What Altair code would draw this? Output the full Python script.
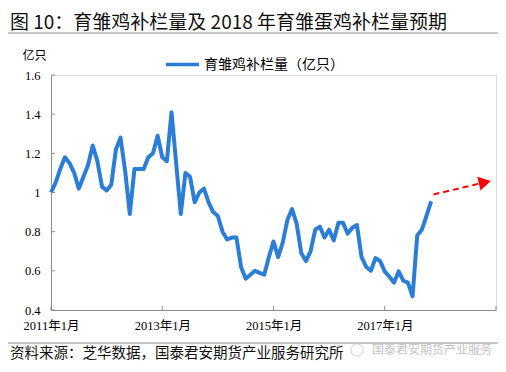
import json
import altair as alt
import pandas as pd

# ---------------- data ----------------
TITLE = "图 10：育雏鸡补栏量及 2018 年育雏蛋鸡补栏量预期"
SOURCE = "资料来源：芝华数据，国泰君安期货产业服务研究所"
WATERMARK = "国泰君安期货产业服务"
SERIES_NAME = "育雏鸡补栏量（亿只）"
Y_UNIT = "亿只"

# monthly values, starting 2011-01 (month index 0)
values = [
    1.00, 1.05, 1.12, 1.18, 1.15, 1.10, 1.02, 1.08, 1.14, 1.24, 1.16, 1.03,
    1.01, 1.04, 1.22, 1.28, 1.11, 0.89, 1.12, 1.12, 1.12, 1.18, 1.20, 1.29,
    1.18, 1.16, 1.41, 1.15, 0.89, 1.10, 1.08, 0.95, 1.00, 1.02, 0.95, 0.90,
    0.88, 0.80, 0.76, 0.77, 0.77, 0.62, 0.56, 0.58, 0.60, 0.59, 0.58, 0.67,
    0.75, 0.67, 0.745, 0.86, 0.915, 0.84, 0.69, 0.65, 0.70, 0.81, 0.826, 0.77,
    0.81, 0.755, 0.846, 0.846, 0.79, 0.82, 0.834, 0.67, 0.62, 0.60, 0.665, 0.65,
    0.597, 0.57, 0.54, 0.597, 0.55, 0.54, 0.47, 0.78, 0.81, 0.88, 0.955,
]
months = list(range(len(values)))

# forecast arrow (month index, value)
arrow_m = [82.5, 93.6]
arrow_v = [0.99, 1.052]
arrow_head_m = [93.6]
arrow_head_v = [1.052]

x_tick_values = [0, 24, 48, 72, 96]
x_tick_labels = ["2011年1月", "2013年1月", "2015年1月", "2017年1月", ""]
y_tick_values = [0.4, 0.6, 0.8, 1.0, 1.2, 1.4, 1.6]

# ---------------- styling ----------------
BLUE = "#2B7DD6"
GRAY = "#8c8c8c"
CJK = "Noto Sans CJK SC"
NUM = "Liberation Serif, Noto Sans CJK SC"
W, H = 445, 235

xscale = alt.Scale(domain=[0, 96], nice=False, zero=False)
yscale = alt.Scale(domain=[0.4, 1.6], nice=False, zero=False)

label_expr = json.dumps(x_tick_labels, ensure_ascii=False) + "[round(datum.value/24)]"

XAXIS = alt.Axis(values=x_tick_values, labelExpr=label_expr, title=None,
                 grid=False, ticks=False, domainColor=GRAY, domainWidth=1,
                 labelFont=NUM, labelFontSize=12.5, labelColor="#000000",
                 labelPadding=9, labelFlush=False, labelOverlap=False)
YAXIS = alt.Axis(values=y_tick_values, format=".1~f", title=Y_UNIT,
                 titleAngle=0, titleX=-29, titleY=-20, titleAlign="left",
                 titleBaseline="middle", titleFont=CJK, titleFontSize=12,
                 titleFontWeight="normal", titleColor="#000000",
                 grid=False, ticks=False, domainColor=GRAY, domainWidth=1,
                 labelFont=NUM, labelFontSize=12.5, labelColor="#000000",
                 labelPadding=11, labelOverlap=False, labelFlush=False)


def X(field):
    return alt.X(field, scale=xscale, axis=XAXIS)


def Y(field):
    return alt.Y(field, scale=yscale, axis=YAXIS)


df = pd.DataFrame({"m": months, "v": values, "s": SERIES_NAME})

line = alt.Chart(df).mark_line(strokeWidth=4, strokeJoin="round").encode(
    x=X("m:Q"),
    y=Y("v:Q"),
    color=alt.Color("s:N", scale=alt.Scale(range=[BLUE]),
                    legend=alt.Legend(title=None, orient="none", legendX=113, legendY=-29,
                                      symbolType="stroke", symbolSize=1089,
                                      symbolStrokeWidth=3.5, labelFont=CJK,
                                      labelFontSize=14, labelColor="#000000",
                                      labelOffset=3, padding=0)),
)

ytick_df = pd.DataFrame({"v": y_tick_values})
yticks = alt.Chart(ytick_df).mark_rule(color=GRAY, strokeWidth=1).encode(
    y=Y("v:Q"), x=alt.value(0), x2=alt.value(4))

xtick_df = pd.DataFrame({"m": x_tick_values})
xticks = alt.Chart(xtick_df).mark_rule(color=GRAY, strokeWidth=1).encode(
    x=X("m:Q"), y=alt.value(H), y2=alt.value(H - 4))

arrow_df = pd.DataFrame({"m": arrow_m, "v": arrow_v})
arrow = alt.Chart(arrow_df).mark_line(color="#ff0000", strokeWidth=2,
                                       strokeDash=[6, 4]).encode(
    x=X("m:Q"), y=Y("v:Q"))

head_df = pd.DataFrame({"m": arrow_head_m, "v": arrow_head_v})
head = alt.Chart(head_df).mark_point(shape="triangle-right", filled=True, color="#ff0000",
                                     size=200, angle=347, opacity=1).encode(
    x=X("m:Q"), y=Y("v:Q"))

title = alt.Chart(pd.DataFrame({"t": [TITLE]})).mark_text(
    align="left", baseline="middle", font=CJK, fontSize=19, color="#111111").encode(
    text="t:N", x=alt.value(-41), y=alt.value(-52))

top_rule = alt.Chart(pd.DataFrame({"a": [0]})).mark_rule(color=GRAY, strokeWidth=1).encode(
    x=alt.value(-43), x2=alt.value(447), y=alt.value(-42))

bottom_rule = alt.Chart(pd.DataFrame({"a": [0]})).mark_rule(color=GRAY, strokeWidth=1).encode(
    x=alt.value(-43), x2=alt.value(447), y=alt.value(268))

source = alt.Chart(pd.DataFrame({"t": [SOURCE]})).mark_text(
    align="left", baseline="middle", font=CJK, fontSize=14.5, color="#111111").encode(
    text="t:N", x=alt.value(-41), y=alt.value(279))

wm = alt.Chart(pd.DataFrame({"t": [WATERMARK]})).mark_text(
    align="left", baseline="middle", font=CJK, fontSize=12, color="#c4c4c4").encode(
    text="t:N", x=alt.value(321), y=alt.value(275))

wm_icon = alt.Chart(pd.DataFrame({"a": [0]})).mark_point(
    shape="circle", color="#cccccc", size=150, strokeWidth=1.2).encode(
    x=alt.value(306), y=alt.value(275))

chart = alt.layer(
    line, top_rule, bottom_rule, title, source, wm_icon, wm,
    yticks, xticks, arrow, head,
).properties(
    width=W, height=H,
    autosize=alt.AutoSizeParams(type="none"),
    padding={"left": 43, "top": 67, "right": 2, "bottom": 54},
).configure_view(stroke=None).configure(background="white")

chart.save("out.html", embed_options={"renderer": "svg", "actions": False})
